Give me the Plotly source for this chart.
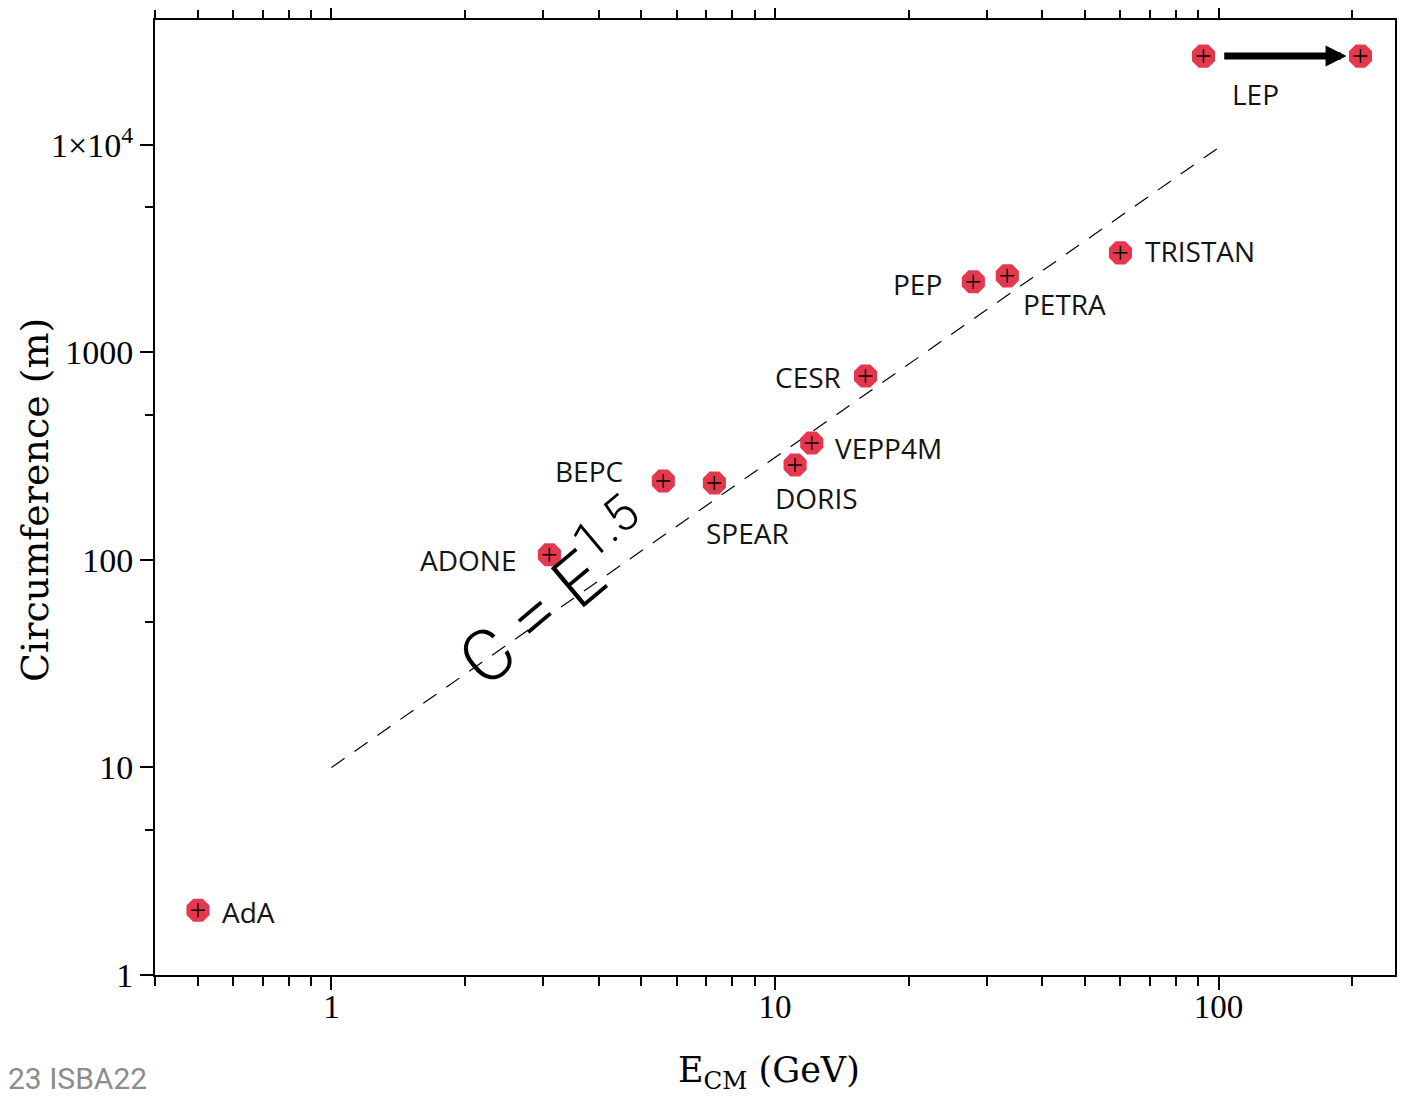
import math
import plotly.graph_objects as go

# ---------------- data ----------------
colliders = ["AdA", "ADONE", "BEPC", "SPEAR", "DORIS", "VEPP4M", "CESR",
             "PEP", "PETRA", "TRISTAN", "LEP", "LEP2"]
energy_gev = [0.5, 3.1, 5.6, 7.3, 11.1, 12.1, 16.0, 28.0, 33.4, 60.1, 92.5, 209.0]
circumference_m = [2.05, 106, 240, 235, 287, 366, 770, 2190, 2340, 3020, 26800, 26800]
point_labels = ["AdA", "ADONE", "BEPC", "SPEAR", "DORIS", "VEPP4M", "CESR",
                "PEP", "PETRA", "TRISTAN", "LEP", ""]

fit_energy_gev = [1, 100]
fit_circumference_m = [10, 9700]

x_tick_vals = [1, 10, 100]
x_tick_text = ["1", "10", "100"]
x_minor_vals = [0.4, 0.5, 0.6, 0.7, 0.8, 0.9, 2, 3, 4, 5, 6, 7, 8, 9,
                20, 30, 40, 50, 60, 70, 80, 90, 200]
y_tick_vals = [1, 10, 100, 1000, 10000]
y_tick_text = ["1", "10", "100", "1000", "1×10<sup>4</sup>"]
y_minor_vals = [5, 50, 500, 5000]

x_range = [math.log10(0.4), math.log10(250)]
y_range = [0, math.log10(40000)]

# label placement (style): xanchor, xshift px, yshift px
label_style = {
    "AdA": ("left", 22, -2),
    "ADONE": ("right", -31, -5),
    "BEPC": ("right", -38, 10),
    "SPEAR": ("center", 33, -50),
    "DORIS": ("center", 21, -33),
    "VEPP4M": ("left", 21, -5),
    "CESR": ("right", -23, -1),
    "PEP": ("right", -29, -2),
    "PETRA": ("left", 14, -28),
    "TRISTAN": ("left", 23, 2),
    "LEP": ("left", 27, -38),
}

fig = go.Figure()

fig.add_trace(go.Scatter(
    x=fit_energy_gev, y=fit_circumference_m, mode="lines",
    line=dict(color="black", width=1.2, dash="16px,12px"),
    hoverinfo="skip", showlegend=False))

fig.add_trace(go.Scatter(
    x=energy_gev, y=circumference_m, mode="markers",
    marker=dict(symbol="octagon", size=25, color="#e4384f", line=dict(width=0)),
    text=colliders, showlegend=False))

fig.add_trace(go.Scatter(
    x=energy_gev, y=circumference_m, mode="markers",
    marker=dict(symbol="cross-thin", size=10, line=dict(width=1.5, color="black")),
    hoverinfo="skip", showlegend=False))

# dummy trace so the mirrored (top/right) axes are drawn
fig.add_trace(go.Scatter(
    x=energy_gev, y=circumference_m, xaxis="x2", yaxis="y2", mode="markers",
    marker=dict(opacity=0), hoverinfo="skip", showlegend=False))

annotations = []
for name, e, c in zip(point_labels, energy_gev, circumference_m):
    if not name:
        continue
    xa, xs, ys = label_style[name]
    annotations.append(dict(
        x=math.log10(e), y=math.log10(c), xref="x", yref="y",
        text=name, showarrow=False, xanchor=xa, yanchor="middle",
        xshift=xs, yshift=ys,
        font=dict(family="Open Sans", size=28, color="#141414")))

# arrow LEP -> LEP2
annotations.append(dict(
    x=math.log10(energy_gev[11] / 1.075), y=math.log10(circumference_m[11]),
    ax=math.log10(energy_gev[10] * 1.105), ay=math.log10(circumference_m[10]),
    xref="x", yref="y", axref="x", ayref="y", text="", showarrow=True,
    arrowhead=2, arrowsize=0.6, arrowwidth=7, arrowcolor="black", standoff=0))

# formula label
annotations.append(dict(
    x=math.log10(3.19), y=math.log10(70), xref="x", yref="y",
    text="C = E<sup>1.5</sup>", showarrow=False, textangle=-40,
    xanchor="center", yanchor="middle",
    font=dict(family="Roboto", size=72, color="black", weight=300)))

# axis titles
annotations.append(dict(
    x=0.4952, y=0, xref="paper", yref="paper", yshift=-97,
    text="E<sub>CM</sub> (GeV)", showarrow=False, xanchor="center", yanchor="middle",
    font=dict(family="DejaVu Serif", size=35, color="black")))
annotations.append(dict(
    x=0, y=0.4974, xref="paper", yref="paper", xshift=-120,
    text="Circumference (m)", showarrow=False, textangle=-90,
    xanchor="center", yanchor="middle",
    font=dict(family="DejaVu Serif", size=38, color="black")))

# watermark
annotations.append(dict(
    x=0, y=0, xref="paper", yref="paper", xshift=-6, yshift=-103,
    text="23 ISBA22", showarrow=False, xanchor="right", yanchor="middle",
    font=dict(family="Roboto", size=30, color="#8c8c8c")))

common_x = dict(type="log", range=x_range, showgrid=False, zeroline=False,
                showline=True, linecolor="black", linewidth=2, automargin=False,
                tickmode="array", tickvals=x_tick_vals,
                ticks="outside", tickwidth=2, tickcolor="black")
common_y = dict(type="log", range=y_range, showgrid=False, zeroline=False,
                showline=True, linecolor="black", linewidth=2, automargin=False,
                tickmode="array", tickvals=y_tick_vals,
                ticks="outside", tickwidth=2, tickcolor="black")

# the page body has an 8px margin, so the figure is 8px smaller than the window
fig.update_layout(
    width=1397, height=1092,
    margin=dict(l=147, r=10, t=12, b=125),
    paper_bgcolor="white", plot_bgcolor="white",
    showlegend=False,
    xaxis=dict(**common_x, ticktext=x_tick_text, ticklen=13, ticklabelstandoff=-12,
               tickfont=dict(family="Liberation Serif", size=33, color="black"),
               minor=dict(tickmode="array", tickvals=x_minor_vals, ticks="outside",
                          ticklen=9, tickwidth=2, tickcolor="black", showgrid=False)),
    xaxis2=dict(**common_x, overlaying="x", side="top", anchor="y",
                showticklabels=False, ticklen=14,
                minor=dict(tickmode="array", tickvals=x_minor_vals, ticks="outside",
                           ticklen=8, tickwidth=2, tickcolor="black", showgrid=False)),
    yaxis=dict(**common_y, ticktext=y_tick_text, ticklen=13,
               tickfont=dict(family="Liberation Serif", size=34, color="black"),
               minor=dict(tickmode="array", tickvals=y_minor_vals, ticks="outside",
                          ticklen=8, tickwidth=2, tickcolor="black", showgrid=False)),
    yaxis2=dict(**common_y, overlaying="y", side="right", anchor="x",
                showticklabels=False, ticklen=10,
                minor=dict(tickmode="array", tickvals=y_minor_vals, ticks="outside",
                           ticklen=10, tickwidth=2, tickcolor="black", showgrid=False)),
    annotations=annotations,
)

fig.write_html("out.html")
